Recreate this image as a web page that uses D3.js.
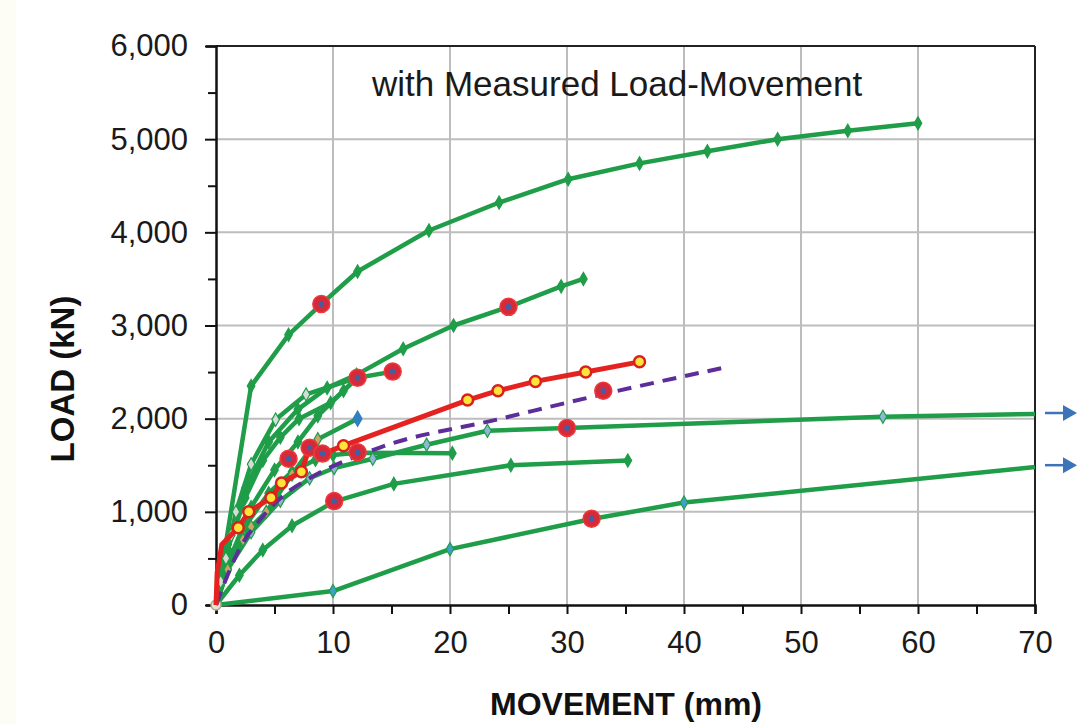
<!DOCTYPE html>
<html>
<head>
<meta charset="utf-8">
<script src="https://cdn.jsdelivr.net/npm/d3@7"></script>
<style>
  body { margin: 0; background: #fff; font-family: "Liberation Sans", Arial, sans-serif; }
  svg { display: block; }
</style>
</head>
<body>
<svg id="chart" width="1077" height="724"></svg>
<script>
// load-movement curves, [movement mm, load kN]
const curveA = [[0,0],[3,2350],[6.2,2900],[9,3230],[12.1,3580],[18.2,4020],[24.2,4320],[30.1,4570],[36.2,4740],[42,4870],[48,5000],[54,5090],[60,5170]];
const curveB = [[0,0],[1,650],[2.5,1250],[4.5,1750],[7,2100],[9.5,2330],[12,2470],[16,2750],[20.3,3000],[25,3200],[29.5,3420],[31.4,3500]];
const curveC = [[0,0],[0.4,250],[0.85,500],[1.3,750],[1.7,1000],[3,1510],[5.1,1990],[7.7,2260],[12.1,2440],[15.1,2505]];
const curveD1 = [[0,0],[1,600],[2.5,1150],[4,1550],[5.5,1800],[7.1,2000],[9.8,2170],[12.1,2440]];
const curveD2 = [[0,0],[1.2,500],[3,1050],[5,1450],[7,1750],[8.7,2030],[10.9,2300],[12.1,2440]];
const curveE = [[0,0],[1,380],[2.3,700],[3,840],[4.3,1000],[6.5,1400],[8.7,1780],[12.1,2000]];
const curveG = [[0,0],[1,450],[2.5,850],[4.5,1200],[6.5,1430],[8.5,1560],[10,1610],[12.1,1635],[20.2,1630]];
const curveH = [[0,0],[1,380],[3,780],[5.5,1120],[8,1360],[10.1,1470],[13.4,1570],[18,1720],[23.2,1870],[30,1900],[57,2020],[70,2050]];
const curveI = [[0,0],[2,320],[4,590],[6.5,850],[10.1,1110],[15.2,1300],[25.2,1500],[35.2,1550]];
const curveJ = [[0,0],[10,150],[20,600],[32,920],[40,1100],[70,1480]];

// calculated curve (red) and dashed estimate (purple)
const redCurve = [[0,0],[0.1,350],[0.5,650],[1.9,830],[2.8,1000],[4.7,1150],[5.6,1310],[7.3,1430],[8,1690],[9.1,1620],[10.9,1710],[21.5,2200],[24.1,2300],[27.3,2400],[31.6,2500],[36.2,2610]];
const dashedCurve = [[0,0],[2,600],[4,950],[6,1200],[8,1360],[14,1690],[24,1990],[33,2260],[43.5,2550]];

// measured points (red circles)
const measured = [[9,3230],[25,3200],[12.1,2440],[15.1,2505],[6.2,1570],[8,1688],[9.1,1625],[12.1,1640],[10.1,1115],[30,1900],[33.1,2300],[32.1,925]];

// curves continuing beyond the plot (arrows), load kN
const arrowLoads = [2050, 1490];

const xTicks = [0,10,20,30,40,50,60,70];
const yTicks = [0,1000,2000,3000,4000,5000,6000];

const svg = d3.select('#chart');
const x = d3.scaleLinear().domain([0,70]).range([216,1035]);
const y = d3.scaleLinear().domain([0,6000]).range([605,46]);

const green = '#1f9d48';
const font = '"Liberation Sans", Arial, sans-serif';

// faint paper edge
svg.append('rect').attr('x',0).attr('y',0).attr('width',16).attr('height',724).attr('fill','#fdfdf6');

// grid
const grid = svg.append('g');
grid.selectAll('line.v').data(xTicks.slice(1,-1)).join('line')
  .attr('x1', d => x(d)).attr('x2', d => x(d)).attr('y1', y(0)).attr('y2', y(6000))
  .attr('stroke','#bdbdbd').attr('stroke-width',2);
grid.selectAll('line.h').data(yTicks.slice(1,-1)).join('line')
  .attr('y1', d => y(d)).attr('y2', d => y(d)).attr('x1', x(0)).attr('x2', x(70))
  .attr('stroke','#bdbdbd').attr('stroke-width',2);

// frame
svg.append('line').attr('x1',x(0)).attr('x2',x(70)).attr('y1',y(6000)).attr('y2',y(6000)).attr('stroke','#222').attr('stroke-width',2);
svg.append('line').attr('x1',x(70)).attr('x2',x(70)).attr('y1',y(6000)).attr('y2',y(0)).attr('stroke','#222').attr('stroke-width',2);

// axes
const yAxis = d3.axisLeft(y).tickValues(d3.range(0,6001,500)).tickSize(10)
  .tickFormat(d => d % 1000 === 0 ? d3.format(',')(d) : '');
const yg = svg.append('g').attr('transform',`translate(${x(0)},0)`).call(yAxis);
yg.selectAll('.tick line').attr('stroke','#111').attr('stroke-width',2)
  .attr('x2', d => d % 1000 === 0 ? -11 : -8);
yg.select('.domain').attr('stroke','#111').attr('stroke-width',2.5);
yg.selectAll('.tick text').attr('x',-28).attr('font-size',31).attr('fill','#1a1a1a')
  .attr('font-family',font);

const xAxis = d3.axisBottom(x).tickValues(d3.range(0,71,5)).tickSize(9)
  .tickFormat(d => d % 10 === 0 ? d : '');
const xg = svg.append('g').attr('transform',`translate(0,${y(0)})`).call(xAxis);
xg.selectAll('.tick line').attr('stroke','#111').attr('stroke-width',2);
xg.select('.domain').attr('stroke','#111').attr('stroke-width',2.5);
xg.selectAll('.tick text').attr('y',26).attr('font-size',31).attr('fill','#1a1a1a')
  .attr('font-family',font);

// titles
svg.append('text').attr('x',626).attr('y',715).attr('text-anchor','middle')
  .attr('font-size',32).attr('font-weight','bold').attr('fill','#111').text('MOVEMENT (mm)');
svg.append('text').attr('transform','translate(74,379) rotate(-90)').attr('text-anchor','middle')
  .attr('font-size',33).attr('font-weight','bold').attr('fill','#111').text('LOAD (kN)');
svg.append('text').attr('x',372).attr('y',96).attr('font-size',35).attr('fill','#1a1a1a')
  .text('with Measured Load-Movement');

const line = d3.line().x(d => x(d[0])).y(d => y(d[1]));
const smooth = d3.line().x(d => x(d[0])).y(d => y(d[1])).curve(d3.curveMonotoneX);

const greenSeries = [
  { pts: curveJ, mark: '#3fa0c8' },
  { pts: curveI, mark: green },
  { pts: curveH, mark: '#8db7d6' },
  { pts: curveG, mark: green },
  { pts: curveE, mark: '#c9a56a' },
  { pts: curveD2, mark: green },
  { pts: curveD1, mark: green },
  { pts: curveC, mark: '#d6dcd6' },
  { pts: curveB, mark: green },
  { pts: curveA, mark: green }
];

const gLines = svg.append('g');
greenSeries.forEach(s => {
  gLines.append('path').datum(s.pts).attr('d', line)
    .attr('fill','none').attr('stroke',green).attr('stroke-width',4.5).attr('stroke-linejoin','round');
});
greenSeries.forEach(s => {
  const diamond = d3.symbol().type(d3.symbolDiamond).size(50);
  gLines.selectAll(null).data(s.pts.slice(1).filter(d => d[0] < 70)).join('path')
    .attr('d', diamond)
    .attr('transform', d => `translate(${x(d[0])},${y(d[1])})`)
    .attr('fill', s.mark).attr('stroke', green).attr('stroke-width', 1.2);
});
// blue end marker on curve E
gLines.append('path').attr('d', d3.symbol().type(d3.symbolDiamond).size(90))
  .attr('transform', `translate(${x(curveE[curveE.length-1][0])},${y(curveE[curveE.length-1][1])})`)
  .attr('fill','#2f7fc1');
// origin marker
gLines.append('circle').attr('cx',x(0)).attr('cy',y(0)).attr('r',5)
  .attr('fill','#e8e2d6').attr('stroke','#b0a890').attr('stroke-width',1.5);

// dashed purple
svg.append('path').datum(dashedCurve).attr('d', smooth)
  .attr('fill','none').attr('stroke','#5d2d9a').attr('stroke-width',4)
  .attr('stroke-dasharray','14,9');

// red calculated curve with yellow markers
svg.append('path').datum(redCurve).attr('d', line)
  .attr('fill','none').attr('stroke','#e42320').attr('stroke-width',5).attr('stroke-linejoin','round');
svg.selectAll('circle.yel').data(redCurve.slice(3)).join('circle')
  .attr('cx', d => x(d[0])).attr('cy', d => y(d[1])).attr('r',5.5)
  .attr('fill','#ffe23a').attr('stroke','#d8201c').attr('stroke-width',2.5);

// measured points
const mg = svg.append('g');
mg.selectAll('circle.m').data(measured).join('circle')
  .attr('cx', d => x(d[0])).attr('cy', d => y(d[1])).attr('r',8.5)
  .attr('fill','#d62a3a').attr('stroke','#ef3a3a').attr('stroke-width',1.5);
mg.selectAll('circle.c').data(measured).join('circle')
  .attr('cx', d => x(d[0])).attr('cy', d => y(d[1])).attr('r',2.8)
  .attr('fill','#3f5fa6');

// arrows beyond right edge
const ag = svg.append('g');
arrowLoads.forEach(v => {
  const yy = y(v) - 1;
  ag.append('line').attr('x1', x(70) + 10).attr('x2', x(70) + 30).attr('y1', yy).attr('y2', yy)
    .attr('stroke','#3d74b8').attr('stroke-width',2.5);
  ag.append('path').attr('d', `M${x(70)+28},${yy-8} L${x(70)+42},${yy} L${x(70)+28},${yy+8} Z`)
    .attr('fill','#3d74b8');
});
</script>
</body>
</html>
